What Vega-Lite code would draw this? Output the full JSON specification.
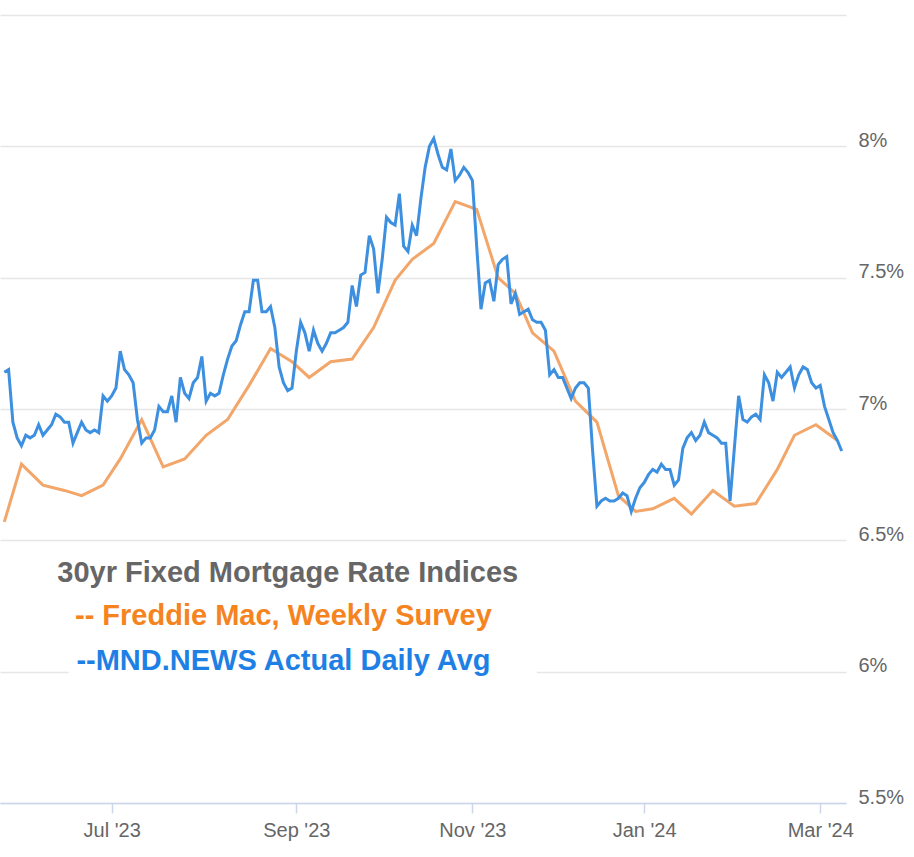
{
"$schema": "https://vega.github.io/schema/vega-lite/v6.json",
"width": 846, "height": 788,
"autosize": {"type": "none"},
"padding": {"left": 0, "top": 15, "right": 68, "bottom": 54},
"background": "white",
"config": {"view": {"stroke": null}, "font": "Liberation Sans"},
"datasets": {
"mnd": [
{"d":"2023-05-25","r":7.14},{"d":"2023-05-26","r":7.15},{"d":"2023-05-30","r":6.95},{"d":"2023-05-31","r":6.89},
{"d":"2023-06-01","r":6.86},{"d":"2023-06-02","r":6.90},{"d":"2023-06-05","r":6.89},{"d":"2023-06-06","r":6.90},{"d":"2023-06-07","r":6.94},{"d":"2023-06-08","r":6.90},{"d":"2023-06-09","r":6.92},{"d":"2023-06-12","r":6.94},{"d":"2023-06-13","r":6.98},{"d":"2023-06-14","r":6.97},{"d":"2023-06-15","r":6.95},{"d":"2023-06-16","r":6.95},{"d":"2023-06-20","r":6.87},{"d":"2023-06-21","r":6.91},{"d":"2023-06-22","r":6.95},{"d":"2023-06-23","r":6.92},{"d":"2023-06-26","r":6.91},{"d":"2023-06-27","r":6.92},{"d":"2023-06-28","r":6.91},{"d":"2023-06-29","r":7.05},{"d":"2023-06-30","r":7.03},
{"d":"2023-07-03","r":7.05},{"d":"2023-07-05","r":7.08},{"d":"2023-07-06","r":7.22},{"d":"2023-07-07","r":7.15},{"d":"2023-07-10","r":7.13},{"d":"2023-07-11","r":7.10},{"d":"2023-07-12","r":6.96},{"d":"2023-07-13","r":6.87},{"d":"2023-07-14","r":6.89},{"d":"2023-07-17","r":6.89},{"d":"2023-07-18","r":6.92},{"d":"2023-07-19","r":7.01},{"d":"2023-07-20","r":6.99},{"d":"2023-07-21","r":6.99},{"d":"2023-07-24","r":7.05},{"d":"2023-07-25","r":6.95},{"d":"2023-07-26","r":7.12},{"d":"2023-07-27","r":7.06},{"d":"2023-07-28","r":7.04},{"d":"2023-07-31","r":7.10},
{"d":"2023-08-01","r":7.12},{"d":"2023-08-02","r":7.20},{"d":"2023-08-03","r":7.03},{"d":"2023-08-04","r":7.06},{"d":"2023-08-07","r":7.05},{"d":"2023-08-08","r":7.06},{"d":"2023-08-09","r":7.13},{"d":"2023-08-10","r":7.19},{"d":"2023-08-11","r":7.24},{"d":"2023-08-14","r":7.26},{"d":"2023-08-15","r":7.32},{"d":"2023-08-16","r":7.37},{"d":"2023-08-17","r":7.37},{"d":"2023-08-18","r":7.49},{"d":"2023-08-21","r":7.49},{"d":"2023-08-22","r":7.37},{"d":"2023-08-23","r":7.37},{"d":"2023-08-24","r":7.39},{"d":"2023-08-25","r":7.31},{"d":"2023-08-28","r":7.16},{"d":"2023-08-29","r":7.10},{"d":"2023-08-30","r":7.07},{"d":"2023-08-31","r":7.08},
{"d":"2023-09-01","r":7.22},{"d":"2023-09-05","r":7.33},{"d":"2023-09-06","r":7.29},{"d":"2023-09-07","r":7.22},{"d":"2023-09-08","r":7.30},{"d":"2023-09-11","r":7.25},{"d":"2023-09-12","r":7.22},{"d":"2023-09-13","r":7.25},{"d":"2023-09-14","r":7.29},{"d":"2023-09-15","r":7.29},{"d":"2023-09-18","r":7.30},{"d":"2023-09-19","r":7.31},{"d":"2023-09-20","r":7.33},{"d":"2023-09-21","r":7.47},{"d":"2023-09-22","r":7.39},{"d":"2023-09-25","r":7.51},{"d":"2023-09-26","r":7.52},{"d":"2023-09-27","r":7.66},{"d":"2023-09-28","r":7.61},{"d":"2023-09-29","r":7.44},
{"d":"2023-10-02","r":7.57},{"d":"2023-10-03","r":7.73},{"d":"2023-10-04","r":7.71},{"d":"2023-10-05","r":7.70},{"d":"2023-10-06","r":7.82},{"d":"2023-10-10","r":7.62},{"d":"2023-10-11","r":7.60},{"d":"2023-10-12","r":7.70},{"d":"2023-10-13","r":7.66},{"d":"2023-10-16","r":7.80},{"d":"2023-10-17","r":7.92},{"d":"2023-10-18","r":8.00},{"d":"2023-10-19","r":8.03},{"d":"2023-10-20","r":7.97},{"d":"2023-10-23","r":7.92},{"d":"2023-10-24","r":7.91},{"d":"2023-10-25","r":7.99},{"d":"2023-10-26","r":7.87},{"d":"2023-10-27","r":7.89},{"d":"2023-10-30","r":7.92},{"d":"2023-10-31","r":7.90},
{"d":"2023-11-01","r":7.87},{"d":"2023-11-02","r":7.62},{"d":"2023-11-03","r":7.38},{"d":"2023-11-06","r":7.48},{"d":"2023-11-07","r":7.49},{"d":"2023-11-08","r":7.41},{"d":"2023-11-09","r":7.55},{"d":"2023-11-13","r":7.57},{"d":"2023-11-14","r":7.58},{"d":"2023-11-15","r":7.40},{"d":"2023-11-16","r":7.44},{"d":"2023-11-17","r":7.36},{"d":"2023-11-20","r":7.37},{"d":"2023-11-21","r":7.38},{"d":"2023-11-22","r":7.34},{"d":"2023-11-24","r":7.33},{"d":"2023-11-27","r":7.33},{"d":"2023-11-28","r":7.30},{"d":"2023-11-29","r":7.13},{"d":"2023-11-30","r":7.15},
{"d":"2023-12-01","r":7.12},{"d":"2023-12-04","r":7.12},{"d":"2023-12-05","r":7.08},{"d":"2023-12-06","r":7.04},{"d":"2023-12-07","r":7.08},{"d":"2023-12-08","r":7.10},{"d":"2023-12-11","r":7.10},{"d":"2023-12-12","r":7.08},{"d":"2023-12-13","r":6.84},{"d":"2023-12-14","r":6.63},{"d":"2023-12-15","r":6.65},{"d":"2023-12-18","r":6.66},{"d":"2023-12-19","r":6.65},{"d":"2023-12-20","r":6.65},{"d":"2023-12-21","r":6.66},{"d":"2023-12-22","r":6.68},{"d":"2023-12-26","r":6.67},{"d":"2023-12-27","r":6.61},{"d":"2023-12-28","r":6.66},{"d":"2023-12-29","r":6.70},
{"d":"2024-01-02","r":6.72},{"d":"2024-01-03","r":6.75},{"d":"2024-01-04","r":6.77},{"d":"2024-01-05","r":6.76},{"d":"2024-01-08","r":6.79},{"d":"2024-01-09","r":6.77},{"d":"2024-01-10","r":6.77},{"d":"2024-01-11","r":6.71},{"d":"2024-01-12","r":6.73},{"d":"2024-01-16","r":6.85},{"d":"2024-01-17","r":6.89},{"d":"2024-01-18","r":6.91},{"d":"2024-01-19","r":6.88},{"d":"2024-01-22","r":6.90},{"d":"2024-01-23","r":6.95},{"d":"2024-01-24","r":6.91},{"d":"2024-01-25","r":6.90},{"d":"2024-01-26","r":6.89},{"d":"2024-01-29","r":6.87},{"d":"2024-01-30","r":6.87},{"d":"2024-01-31","r":6.65},
{"d":"2024-02-01","r":6.85},{"d":"2024-02-02","r":7.05},{"d":"2024-02-05","r":6.96},{"d":"2024-02-06","r":6.95},{"d":"2024-02-07","r":6.97},{"d":"2024-02-08","r":6.98},{"d":"2024-02-09","r":6.96},{"d":"2024-02-12","r":7.13},{"d":"2024-02-13","r":7.10},{"d":"2024-02-14","r":7.03},{"d":"2024-02-15","r":7.14},{"d":"2024-02-16","r":7.12},{"d":"2024-02-20","r":7.14},{"d":"2024-02-21","r":7.16},{"d":"2024-02-22","r":7.08},{"d":"2024-02-23","r":7.13},{"d":"2024-02-26","r":7.16},{"d":"2024-02-27","r":7.15},{"d":"2024-02-28","r":7.10},{"d":"2024-02-29","r":7.08},
{"d":"2024-03-01","r":7.09},{"d":"2024-03-04","r":7.01},{"d":"2024-03-05","r":6.96},{"d":"2024-03-06","r":6.91},{"d":"2024-03-07","r":6.88},{"d":"2024-03-08","r":6.84}
],
"freddie": [
{"d":"2023-05-25","r":6.57},{"d":"2023-06-01","r":6.79},{"d":"2023-06-08","r":6.71},{"d":"2023-06-15","r":6.69},{"d":"2023-06-22","r":6.67},{"d":"2023-06-29","r":6.71},{"d":"2023-07-06","r":6.81},{"d":"2023-07-13","r":6.96},{"d":"2023-07-20","r":6.78},{"d":"2023-07-27","r":6.81},{"d":"2023-08-03","r":6.90},{"d":"2023-08-10","r":6.96},{"d":"2023-08-17","r":7.09},{"d":"2023-08-24","r":7.23},{"d":"2023-08-31","r":7.18},{"d":"2023-09-07","r":7.12},{"d":"2023-09-14","r":7.18},{"d":"2023-09-21","r":7.19},{"d":"2023-09-28","r":7.31},{"d":"2023-10-05","r":7.49},{"d":"2023-10-12","r":7.57},{"d":"2023-10-19","r":7.63},{"d":"2023-10-26","r":7.79},{"d":"2023-11-02","r":7.76},{"d":"2023-11-09","r":7.50},{"d":"2023-11-16","r":7.44},{"d":"2023-11-22","r":7.29},{"d":"2023-11-30","r":7.22},{"d":"2023-12-07","r":7.03},{"d":"2023-12-14","r":6.95},{"d":"2023-12-21","r":6.67},{"d":"2023-12-28","r":6.61},{"d":"2024-01-04","r":6.62},{"d":"2024-01-11","r":6.66},{"d":"2024-01-18","r":6.60},{"d":"2024-01-25","r":6.69},{"d":"2024-02-01","r":6.63},{"d":"2024-02-08","r":6.64},{"d":"2024-02-15","r":6.77},{"d":"2024-02-22","r":6.90},{"d":"2024-02-29","r":6.94},{"d":"2024-03-07","r":6.88}
]
},
"encoding": {
"x": {"field": "d", "type": "ordinal", "scale": {"type": "point", "padding": 1.5},
 "axis": {"values": ["2023-07-03","2023-09-01","2023-11-01","2024-01-02","2024-03-01"],
  "labelExpr": "utcFormat(toDate(datum.value), \"%b '%y\")",
  "title": null, "labelAngle": 0, "grid": false, "labelOverlap": false,
  "domainColor": "#ccd6eb", "domainWidth": 1.5, "tickColor": "#ccd6eb", "tickSize": 10, "tickWidth": 1.5,
  "labelColor": "#666666", "labelFont": "Liberation Sans", "labelFontSize": 20, "labelPadding": 7}},
"y": {"field": "r", "type": "quantitative", "scale": {"domain": [5.5, 8.5], "zero": false, "nice": false},
 "axis": {"orient": "right", "values": [5.5,6,6.5,7,7.5,8,8.5],
  "labelExpr": "datum.value >= 8.5 ? '' : format(datum.value, '~g') + '%'",
  "title": null, "domain": false, "ticks": false, "grid": true, "gridColor": "#e6e6e6", "gridWidth": 1.5,
  "labelColor": "#666666", "labelFont": "Liberation Sans", "labelFontSize": 20, "labelPadding": 12,
  "labelBaseline": "alphabetic", "labelOverlap": false}}
},
"layer": [
{"data": {"name": "freddie"}, "mark": {"type": "line", "color": "#f2a66a", "strokeWidth": 3}},
{"data": {"name": "mnd"}, "mark": {"type": "line", "color": "#3d8fe0", "strokeWidth": 3}},
{"data": {"values": [{"d": "2023-06-16", "d2": "2023-11-24", "r": 6}]}, "mark": {"type": "rule", "color": "white", "strokeWidth": 4}, "encoding": {"x2": {"field": "d2"}}},
{"data": {"values": [{"d": "2023-08-30", "r": 6.341, "t": "30yr Fixed Mortgage Rate Indices"}]}, "mark": {"type": "text", "font": "Liberation Sans", "fontSize": 29, "fontWeight": "bold", "color": "#666666", "align": "center", "baseline": "alphabetic"}, "encoding": {"text": {"field": "t"}}},
{"data": {"values": [{"d": "2023-08-29", "r": 6.178, "t": "-- Freddie Mac, Weekly Survey"}]}, "mark": {"type": "text", "font": "Liberation Sans", "fontSize": 29, "fontWeight": "bold", "color": "#f5841f", "align": "center", "baseline": "alphabetic"}, "encoding": {"text": {"field": "t"}}},
{"data": {"values": [{"d": "2023-08-29", "r": 6.006, "t": "--MND.NEWS Actual Daily Avg"}]}, "mark": {"type": "text", "font": "Liberation Sans", "fontSize": 29, "fontWeight": "bold", "color": "#1e7fe4", "align": "center", "baseline": "alphabetic"}, "encoding": {"text": {"field": "t"}}}
]
}
